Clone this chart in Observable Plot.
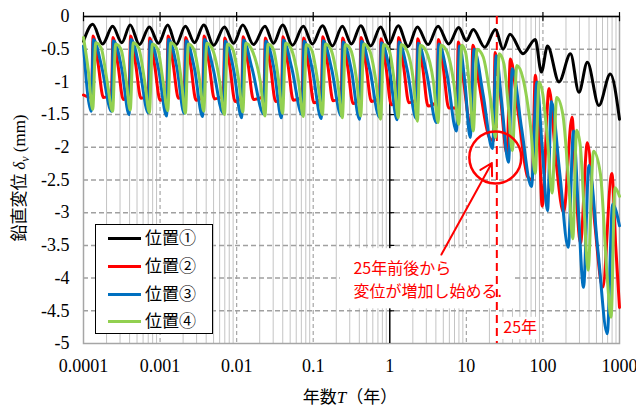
<!DOCTYPE html>
<html><head><meta charset="utf-8">
<script src="https://cdn.jsdelivr.net/npm/d3@7"></script>
<script src="https://cdn.jsdelivr.net/npm/@observablehq/plot@0.6"></script>
<style>
body{margin:0;background:#fff;}
#wrap{position:relative;width:636px;height:407px;overflow:hidden;background:#fff;}
#legend{position:absolute;left:95px;top:224px;width:116px;height:108px;border:1.5px solid #000;background:#fff;}
#legend .row{position:absolute;left:0;height:20px;}
#legend .sw{position:absolute;left:12px;width:33px;height:3px;}
#legend .lb{position:absolute;left:49px;top:-12px;font-family:"Noto Sans CJK JP",sans-serif;font-size:17px;line-height:22px;white-space:nowrap;color:#000;}
</style></head><body><div id="wrap"></div>
<script>
// ---- data: [log10(years), vertical displacement (mm)] ----
const seriesNames = ["位置①","位置②","位置③","位置④"];
const seriesColors = ["#000000","#ff0000","#0070c0","#92d050"];
const blackPts = [[-4.00,-0.38],[-3.88,-0.12],[-3.75,-0.42],[-3.62,-0.15],[-3.50,-0.40],[-3.39,-0.13],[-3.27,-0.43],[-3.14,-0.16],[-3.02,-0.41],[-2.90,-0.13],[-2.79,-0.43],[-2.67,-0.15],[-2.55,-0.40],[-2.43,-0.13],[-2.30,-0.44],[-2.16,-0.16],[-2.04,-0.41],[-1.92,-0.13],[-1.78,-0.43],[-1.63,-0.15],[-1.52,-0.41],[-1.40,-0.13],[-1.27,-0.44],[-1.13,-0.15],[-1.01,-0.42],[-0.88,-0.14],[-0.75,-0.45],[-0.62,-0.15],[-0.50,-0.42],[-0.38,-0.14],[-0.25,-0.45],[-0.12,-0.16],[-0.01,-0.42],[0.11,-0.14],[0.24,-0.46],[0.36,-0.16],[0.50,-0.43],[0.63,-0.15],[0.77,-0.42],[0.90,-0.17],[1.00,-0.37],[1.09,-0.20],[1.24,-0.47],[1.38,-0.20],[1.48,-0.50],[1.57,-0.27],[1.74,-0.57],[1.90,-0.35],[1.98,-0.85],[2.06,-0.45],[2.21,-1.00],[2.36,-0.57],[2.47,-1.16],[2.58,-0.70],[2.73,-1.36],[2.88,-0.88],[3.00,-1.57]];
const redPts = [[-4.00,-1.20],[-3.895,-1.24],
 [-3.875,-0.30],[-3.81,-0.72],[-3.74,-1.24],[-3.635,-1.20],
 [-3.615,-0.32],[-3.55,-0.74],[-3.48,-1.27],[-3.405,-1.22],
 [-3.385,-0.30],[-3.32,-0.72],[-3.25,-1.25],[-3.155,-1.21],
 [-3.135,-0.33],[-3.07,-0.75],[-3.00,-1.28],[-2.915,-1.23],
 [-2.895,-0.30],[-2.83,-0.72],[-2.76,-1.25],[-2.685,-1.21],
 [-2.665,-0.32],[-2.60,-0.74],[-2.53,-1.28],[-2.445,-1.23],
 [-2.425,-0.30],[-2.36,-0.72],[-2.29,-1.26],[-2.175,-1.21],
 [-2.155,-0.33],[-2.09,-0.75],[-2.02,-1.30],[-1.935,-1.24],
 [-1.915,-0.31],[-1.85,-0.73],[-1.78,-1.27],[-1.645,-1.22],
 [-1.625,-0.33],[-1.56,-0.75],[-1.49,-1.30],[-1.415,-1.24],
 [-1.395,-0.31],[-1.33,-0.73],[-1.26,-1.28],[-1.145,-1.23],
 [-1.125,-0.33],[-1.06,-0.76],[-0.99,-1.32],[-0.895,-1.25],
 [-0.875,-0.31],[-0.81,-0.74],[-0.74,-1.29],[-0.635,-1.24],
 [-0.615,-0.33],[-0.55,-0.76],[-0.48,-1.33],[-0.395,-1.26],
 [-0.375,-0.32],[-0.31,-0.75],[-0.24,-1.30],[-0.135,-1.25],
 [-0.115,-0.34],[-0.05,-0.77],[0.02,-1.35],[0.095,-1.28],
 [0.115,-0.32],[0.18,-0.76],[0.25,-1.32],[0.345,-1.27],
 [0.365,-0.34],[0.43,-0.78],[0.50,-1.37],[0.615,-1.30],
 [0.635,-0.35],[0.70,-0.80],[0.77,-1.40],[0.875,-1.40],
 [0.895,-0.39],[0.96,-0.95],[1.06,-1.70],
 [1.085,-0.44],[1.17,-1.05],[1.30,-1.85],[1.355,-1.90],
 [1.375,-0.55],[1.44,-1.15],[1.53,-2.10],
 [1.575,-0.65],[1.68,-1.50],[1.80,-2.45],[1.86,-2.50],
 [1.90,-0.90],[1.95,-1.80],[1.99,-2.90],
 [2.08,-1.10],[2.17,-2.20],[2.27,-3.00],
 [2.38,-1.54],[2.43,-2.60],[2.49,-3.47],
 [2.58,-1.93],[2.68,-3.20],[2.78,-4.14],
 [2.90,-2.40],[2.95,-3.50],[3.00,-4.45]];
const bluePts = [[-4.00,-0.45],[-3.90,-1.45],
 [-3.87,-0.35],[-3.76,-0.78],[-3.635,-1.45],
 [-3.61,-0.37],[-3.50,-0.80],[-3.405,-1.50],
 [-3.38,-0.35],[-3.27,-0.78],[-3.155,-1.47],
 [-3.13,-0.38],[-3.02,-0.80],[-2.915,-1.52],
 [-2.89,-0.35],[-2.78,-0.78],[-2.685,-1.48],
 [-2.66,-0.37],[-2.55,-0.80],[-2.445,-1.53],
 [-2.42,-0.35],[-2.31,-0.78],[-2.175,-1.48],
 [-2.15,-0.38],[-2.04,-0.81],[-1.935,-1.55],
 [-1.91,-0.36],[-1.80,-0.79],[-1.645,-1.49],
 [-1.62,-0.38],[-1.51,-0.81],[-1.415,-1.55],
 [-1.39,-0.36],[-1.28,-0.79],[-1.145,-1.50],
 [-1.12,-0.38],[-1.01,-0.82],[-0.895,-1.56],
 [-0.87,-0.37],[-0.76,-0.80],[-0.635,-1.52],
 [-0.61,-0.39],[-0.50,-0.83],[-0.395,-1.57],
 [-0.37,-0.38],[-0.26,-0.82],[-0.135,-1.54],
 [-0.11,-0.40],[0.00,-0.84],[0.095,-1.58],
 [0.12,-0.39],[0.23,-0.83],[0.345,-1.56],
 [0.37,-0.41],[0.48,-0.86],[0.61,-1.62],
 [0.64,-0.42],[0.75,-0.90],[0.87,-1.75],
 [0.91,-0.45],[0.98,-1.00],[1.05,-1.85],
 [1.10,-0.50],[1.22,-1.20],[1.34,-2.02],
 [1.39,-0.60],[1.46,-1.30],[1.55,-2.23],
 [1.60,-0.80],[1.72,-1.70],[1.85,-2.60],
 [1.92,-1.00],[1.99,-2.00],[2.06,-2.97],
 [2.11,-1.30],[2.22,-2.40],[2.33,-3.53],
 [2.40,-1.75],[2.46,-2.90],[2.53,-4.14],
 [2.60,-2.28],[2.72,-3.60],[2.84,-4.85],
 [2.91,-2.87],[3.00,-3.20]];
const greenPts = [[-4.00,-0.32],[-3.94,-0.80],
 [-3.88,-1.42],[-3.84,-0.40],[-3.77,-0.48],[-3.69,-1.00],
 [-3.62,-1.45],[-3.58,-0.42],[-3.51,-0.50],[-3.44,-1.00],
 [-3.39,-1.43],[-3.35,-0.40],[-3.28,-0.48],[-3.20,-1.00],
 [-3.14,-1.47],[-3.10,-0.42],[-3.03,-0.50],[-2.96,-1.00],
 [-2.90,-1.44],[-2.86,-0.40],[-2.79,-0.48],[-2.72,-1.00],
 [-2.67,-1.48],[-2.63,-0.42],[-2.56,-0.50],[-2.48,-1.00],
 [-2.43,-1.45],[-2.39,-0.41],[-2.32,-0.49],[-2.22,-1.00],
 [-2.16,-1.50],[-2.12,-0.42],[-2.05,-0.50],[-1.97,-1.00],
 [-1.92,-1.46],[-1.88,-0.41],[-1.81,-0.49],[-1.69,-1.00],
 [-1.63,-1.52],[-1.59,-0.42],[-1.52,-0.50],[-1.45,-1.00],
 [-1.40,-1.48],[-1.36,-0.41],[-1.29,-0.49],[-1.19,-1.00],
 [-1.13,-1.53],[-1.09,-0.43],[-1.02,-0.51],[-0.94,-1.00],
 [-0.88,-1.50],[-0.84,-0.42],[-0.77,-0.50],[-0.68,-1.00],
 [-0.62,-1.55],[-0.58,-0.43],[-0.51,-0.51],[-0.43,-1.00],
 [-0.38,-1.52],[-0.34,-0.42],[-0.27,-0.50],[-0.18,-1.00],
 [-0.12,-1.57],[-0.08,-0.43],[-0.01,-0.51],[0.06,-1.00],
 [0.11,-1.55],[0.15,-0.43],[0.22,-0.51],[0.31,-1.00],
 [0.36,-1.60],[0.40,-0.44],[0.47,-0.52],[0.57,-1.00],
 [0.63,-1.62],[0.67,-0.44],[0.74,-0.52],[0.84,-1.05],
 [0.90,-1.65],[0.94,-0.44],[0.99,-0.55],[1.05,-1.20],
 [1.09,-1.75],[1.14,-0.50],[1.22,-0.62],[1.32,-1.30],
 [1.38,-1.85],[1.43,-0.57],[1.49,-0.72],[1.55,-1.40],
 [1.60,-2.05],[1.66,-0.75],[1.74,-0.95],[1.84,-1.70],
 [1.90,-2.40],[1.95,-1.00],[2.00,-1.20],[2.06,-1.90],
 [2.12,-2.70],[2.18,-1.24],[2.26,-1.50],[2.34,-2.60],
 [2.39,-3.40],[2.44,-1.74],[2.49,-2.00],[2.54,-3.00],
 [2.59,-3.88],[2.66,-2.06],[2.75,-2.40],[2.84,-4.00],
 [2.89,-4.60],[2.94,-2.62],[3.00,-2.75]];
const xTicks = [0.0001,0.001,0.01,0.1,1,10,100,1000];
const xTickLabels = ["0.0001","0.001","0.01","0.1","1","10","100","1000"];
const yTicks = [0,-0.5,-1,-1.5,-2,-2.5,-3,-3.5,-4,-4.5,-5];
const yTickLabels = ["0","-0.5","-1","-1.5","-2","-2.5","-3","-3.5","-4","-4.5","-5"];
const markYear = 25;

// ---- build table ----
const allPts = [blackPts, redPts, bluePts, greenPts];
const rows = allPts.flatMap((pts, s) => pts.map(([lt, d]) => ({T: Math.pow(10, lt), d, s: seriesNames[s]})));
const minorX = xTicks.slice(0, -1).flatMap(t => [2,3,4,5,6,7,8,9].map(m => m * t));
const yGrid = yTicks.filter(v => v < 0 && v > -5);

const serif = "'Liberation Serif','Times New Roman',serif";
const jp = "'Noto Sans CJK JP','Noto Sans',sans-serif";

const chart = Plot.plot({
  width: 636, height: 407,
  marginLeft: 83, marginRight: 17, marginTop: 16, marginBottom: 64,
  x: {type: "log", domain: [1e-4, 1000]},
  y: {domain: [-5, 0]},
  color: {domain: seriesNames, range: seriesColors},
  style: {fontFamily: serif, fontSize: "18px", color: "#000", background: "#fff"},
  marks: [
    Plot.ruleX(minorX, {stroke: "#c4c4c4", strokeWidth: 1}),
    Plot.ruleX(xTicks.filter(t => t > 1e-4 && t < 1000 && t !== 1), {stroke: "#a6a6a6", strokeWidth: 1.2, strokeDasharray: "4,3"}),
    Plot.ruleY(yGrid, {stroke: "#a0a0a0", strokeWidth: 1.5, strokeDasharray: "5,3"}),
    Plot.frame({stroke: "#a6a6a6", strokeWidth: 1.5}),
    Plot.ruleY([0], {stroke: "#000", strokeWidth: 1.5}),
    Plot.ruleX([1], {stroke: "#000", strokeWidth: 1.5}),
    Plot.ruleX(xTicks, {y1: 0.06, y2: -0.08, stroke: "#000", strokeWidth: 1.2}),
    Plot.ruleY(yGrid, {x1: 1, x2: 1.17, stroke: "#000", strokeWidth: 1.2}),
    Plot.rect([{x1: 0.226, x2: 43.6, y1: -3.55, y2: -4.47}], {x1: "x1", x2: "x2", y1: "y1", y2: "y2", fill: "#fff"}),
    Plot.ruleX([markYear], {stroke: "#ff0000", strokeWidth: 2, strokeDasharray: "8,5"}),
    Plot.rect([{x1: 28.5, x2: 85, y1: -4.6, y2: -4.94}], {x1: "x1", x2: "x2", y1: "y1", y2: "y2", fill: "#fff"}),
    Plot.line(rows, {x: "T", y: "d", z: "s", stroke: "s", strokeWidth: 3, curve: "monotone-x"}),
    Plot.dot([{x: 23.9, y: -2.156}], {x: "x", y: "y", r: 26, stroke: "#ff0000", strokeWidth: 2.5, fill: "none"}),
    Plot.arrow([{x1: 4.72, y1: -3.64, x2: 21.5, y2: -2.24}], {x1: "x1", y1: "y1", x2: "x2", y2: "y2", stroke: "#ff0000", strokeWidth: 2, headLength: 10}),
    Plot.text(["25年前後から"], {x: 0.335, y: -3.853, text: d => d, textAnchor: "start", fill: "#ff0000", fontFamily: jp, fontSize: 16}),
    Plot.text(["変位が増加し始める."], {x: 0.335, y: -4.205, text: d => d, textAnchor: "start", fill: "#ff0000", fontFamily: jp, fontSize: 16}),
    Plot.text(["25年"], {x: 30.4, y: -4.755, text: d => d, textAnchor: "start", fill: "#ff0000", fontFamily: jp, fontSize: 16}),
    Plot.axisX(xTicks, {tickSize: 0, tickPadding: 16, tickFormat: d => xTickLabels[xTicks.indexOf(d)], label: null, fontSize: 18}),
    Plot.axisY(yTicks, {tickSize: 0, tickPadding: 14, tickFormat: d => yTickLabels[yTicks.indexOf(d)], label: null, fontSize: 18})
  ]
});

const wrap = document.getElementById("wrap");
wrap.appendChild(chart);

const svg = d3.select(chart);
const yt = svg.append("text")
  .attr("transform", "translate(25,178) rotate(-90)")
  .attr("text-anchor", "middle")
  .attr("font-size", 17).attr("fill", "#000");
yt.append("tspan").attr("font-family", jp).text("鉛直変位 ");
yt.append("tspan").attr("font-family", serif).attr("font-style", "italic").text("δ");
yt.append("tspan").attr("font-family", serif).attr("font-style", "italic").attr("font-size", 12).attr("dy", 4).text("v");
yt.append("tspan").attr("font-family", serif).attr("dy", -4).text(" (mm)");

const xt = svg.append("text")
  .attr("x", 350).attr("y", 403)
  .attr("text-anchor", "middle")
  .attr("font-size", 17).attr("fill", "#000");
xt.append("tspan").attr("font-family", jp).text("年数");
xt.append("tspan").attr("font-family", serif).attr("font-style", "italic").text("T");
xt.append("tspan").attr("font-family", jp).text("（年）");

const lg = document.createElement("div");
lg.id = "legend";
const rowsY = [13, 41, 69, 96];
seriesNames.forEach((n, i) => {
  const r = document.createElement("div");
  r.className = "row";
  r.style.top = rowsY[i] + "px";
  r.innerHTML = `<div class="sw" style="background:${seriesColors[i]};top:-1px"></div><div class="lb">${n}</div>`;
  lg.appendChild(r);
});
wrap.appendChild(lg);
</script></body></html>
